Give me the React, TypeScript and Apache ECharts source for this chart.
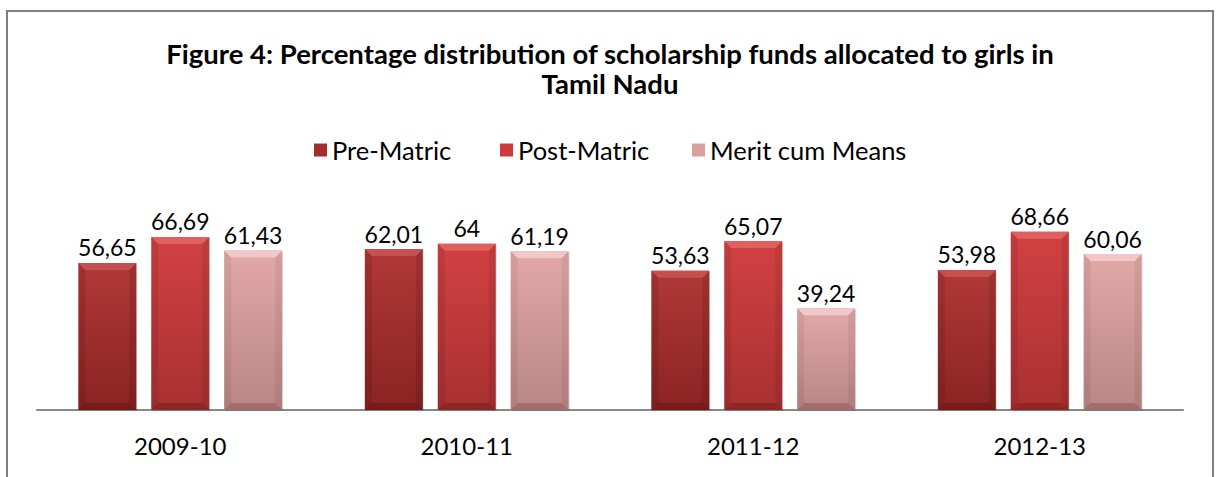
import React, { useEffect, useRef } from "react";
import * as echarts from "echarts";

const categories = ["2009-10", "2010-11", "2011-12", "2012-13"];
const seriesNames = ["Pre-Matric", "Post-Matric", "Merit cum Means"];
const preMatric = [56.65, 62.01, 53.63, 53.98];
const postMatric = [66.69, 64, 65.07, 68.66];
const meritCumMeans = [61.43, 61.19, 39.24, 60.06];
const titleLines = [
  "Figure 4: Percentage distribution of scholarship funds allocated to girls in",
  "Tamil Nadu",
];

const palettes = [
  { base: "#a42e2e", top: "#b23838", bottom: "#8a2323", bevelTop: "#c65050", bevelSide: "rgba(0,0,0,0.10)", bevelBottom: "rgba(60,0,0,0.25)" },
  { base: "#c93b3c", top: "#d24142", bottom: "#a83031", bevelTop: "#e06060", bevelSide: "rgba(0,0,0,0.08)", bevelBottom: "rgba(60,0,0,0.22)" },
  { base: "#d9a0a0", top: "#e3a8a8", bottom: "#b98585", bevelTop: "#f2c7c7", bevelSide: "rgba(0,0,0,0.06)", bevelBottom: "rgba(60,0,0,0.18)" },
];

const FONT = "Lato, 'Open Sans', sans-serif";

const fmt = (v: number) => String(v).replace(".", ",");

function makeRender(idx: number) {
  const pal = palettes[idx];
  return (params: any, api: any) => {
    const ci = api.value(0);
    const val = api.value(1);
    const base = api.coord([ci, 0]);
    const top = api.coord([ci, val]);
    const band = api.size([1, 0])[0];
    const w = band * 0.2025;
    const step = band * 0.2545;
    const cx = base[0] + (idx - 1) * step;
    const x0 = cx - w / 2;
    const x1 = cx + w / 2;
    const y0 = top[1];
    const y1 = base[1];
    const b = 7;
    return {
      type: "group",
      children: [
        {
          type: "rect",
          shape: { x: x0 + 1, y: y0 + 1, width: w, height: y1 - y0 },
          style: { fill: "rgba(0,0,0,0.12)" },
        },
        {
          type: "rect",
          shape: { x: x0, y: y0, width: w, height: y1 - y0 },
          style: {
            fill: new echarts.graphic.LinearGradient(0, 0, 0, 1, [
              { offset: 0, color: pal.top },
              { offset: 1, color: pal.bottom },
            ]),
          },
        },
        {
          type: "polygon",
          shape: { points: [[x0, y0], [x1, y0], [x1 - b, y0 + b], [x0 + b, y0 + b]] },
          style: { fill: pal.bevelTop },
        },
        {
          type: "polygon",
          shape: { points: [[x0, y0], [x0 + b, y0 + b], [x0 + b, y1 - b], [x0, y1]] },
          style: { fill: pal.bevelSide },
        },
        {
          type: "polygon",
          shape: { points: [[x1, y0], [x1 - b, y0 + b], [x1 - b, y1 - b], [x1, y1]] },
          style: { fill: pal.bevelSide },
        },
        {
          type: "polygon",
          shape: { points: [[x0, y1], [x0 + b, y1 - b], [x1 - b, y1 - b], [x1, y1]] },
          style: { fill: pal.bevelBottom },
        },
        {
          type: "text",
          x: cx,
          y: y0 - 4,
          style: {
            text: fmt(val),
            textAlign: "center",
            textVerticalAlign: "bottom",
            font: `23px ${FONT}`,
            fill: "#000",
          },
        },
      ],
    };
  };
}

export default function App() {
  const ref = useRef<HTMLDivElement>(null);
  useEffect(() => {
    if (!ref.current) return;
    const chart = echarts.init(ref.current, null, { renderer: "svg" });
    const all = [preMatric, postMatric, meritCumMeans];
    const legendLefts = [314, 500, 692];
    chart.setOption({
      animation: false,
      backgroundColor: "#ffffff",
      graphic: [
        {
          type: "rect",
          shape: { x: 7, y: 11, width: 1206, height: 490 },
          style: { fill: "none", stroke: "#7f7f7f", lineWidth: 2 },
        },
        {
          type: "text",
          x: 610,
          y: 53,
          style: {
            text: titleLines[0],
            textAlign: "center",
            textVerticalAlign: "middle",
            font: `bold 27.5px ${FONT}`,
            fill: "#000",
          },
        },
        {
          type: "text",
          x: 610,
          y: 83,
          style: {
            text: titleLines[1],
            textAlign: "center",
            textVerticalAlign: "middle",
            font: `bold 27.5px ${FONT}`,
            fill: "#000",
          },
        },
      ],
      legend: seriesNames.map((n, i) => ({
        data: [n],
        left: legendLefts[i],
        top: 137,
        padding: 0,
        icon: "rect",
        itemWidth: 13,
        itemHeight: 13,
        itemGap: 6,
        textStyle: { fontSize: 25.5, fontFamily: FONT, color: "#000" },
      })),
      grid: { left: 37, right: 33, top: 228.3, bottom: 67 },
      xAxis: {
        type: "category",
        data: categories,
        axisLine: { lineStyle: { color: "#898989", width: 2 } },
        axisTick: { show: false },
        axisLabel: { fontSize: 24, fontFamily: FONT, color: "#000", margin: 23 },
      },
      yAxis: { type: "value", min: 0, max: 70, show: false, splitLine: { show: false } },
      series: seriesNames.map((n, i) => ({
        type: "custom",
        name: n,
        itemStyle: { color: palettes[i].base },
        renderItem: makeRender(i),
        encode: { x: 0, y: 1 },
        data: all[i].map((v, k) => [k, v]),
        clip: false,
      })),
    });
    return () => chart.dispose();
  }, []);
  return (
    <div
      ref={ref}
      style={{ position: "fixed", left: 0, top: 0, width: 1216, height: 477 }}
    />
  );
}
